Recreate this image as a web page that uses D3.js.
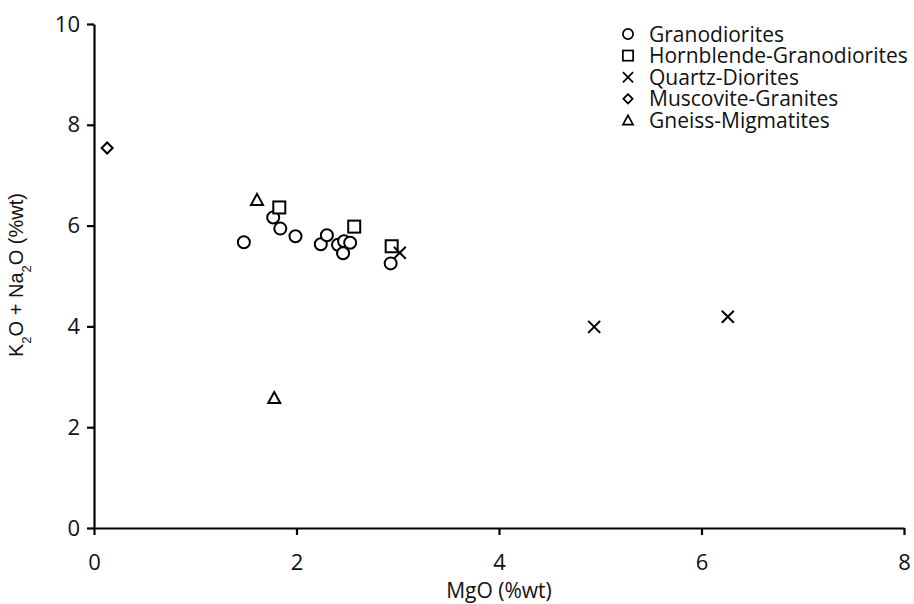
<!DOCTYPE html>
<html>
<head>
<meta charset="utf-8">
<script src="https://cdn.jsdelivr.net/npm/d3@7"></script>
<style>
  body { margin: 0; background: #fff; }
  svg { font-family: "Open Sans", sans-serif; }
</style>
</head>
<body>
<div id="chart"></div>
<script>
// series data: [MgO, K2O+Na2O]
var granodiorites = [[1.48, 5.67], [1.77, 6.16], [1.84, 5.94], [1.99, 5.79], [2.24, 5.63], [2.30, 5.81],
  [2.41, 5.62], [2.47, 5.69], [2.53, 5.66], [2.46, 5.45], [2.93, 5.25]];
var hornblendeGranodiorites = [[1.83, 6.36], [2.57, 5.98], [2.94, 5.59]];
var quartzDiorites = [[3.02, 5.46], [4.94, 3.99], [6.26, 4.19]];
var muscoviteGranites = [[0.13, 7.54]];
var gneissMigmatites = [[1.61, 6.51], [1.78, 2.58]];

var seriesNames = ["Granodiorites", "Hornblende-Granodiorites", "Quartz-Diorites", "Muscovite-Granites", "Gneiss-Migmatites"];
var xTicks = [0, 2, 4, 6, 8];
var yTicks = [0, 2, 4, 6, 8, 10];

var margin = {top: 24, right: 7, bottom: 76, left: 94},
    width = 914 - margin.left - margin.right,
    height = 604 - margin.top - margin.bottom;

var svg = d3.select("#chart").append("svg")
  .attr("width", 914).attr("height", 604)
  .append("g").attr("transform", "translate(" + margin.left + "," + margin.top + ")");

var x = d3.scaleLinear().domain([0, 8]).range([0, width - 3]);
var y = d3.scaleLinear().domain([0, 10]).range([height, 0]);

var xAxis = svg.append("g").attr("transform", "translate(0," + height + ")")
  .call(d3.axisBottom(x).tickValues(xTicks).tickSize(7).tickPadding(19).tickSizeOuter(0));
var yAxis = svg.append("g")
  .call(d3.axisLeft(y).tickValues(yTicks).tickSize(7).tickPadding(7).tickSizeOuter(0));

[xAxis, yAxis].forEach(function(a) {
  a.selectAll("path, line").attr("stroke", "#000").attr("stroke-width", 2.2);
  a.selectAll("text").attr("fill", "#111").style("font-size", "22px").style("font-family", "Open Sans, sans-serif");
});

svg.append("text").attr("x", x(4)).attr("y", height + 70).attr("text-anchor", "middle")
  .style("font-size", "21px").attr("fill", "#111").text("MgO (%wt)");

var yt = svg.append("text").attr("transform", "translate(-71," + (y(5) - 1) + ") rotate(-90)")
  .attr("text-anchor", "middle").style("font-size", "20px").style("font-family", "Liberation Sans, Arial, sans-serif")
  .attr("fill", "#111");
yt.append("tspan").text("K");
yt.append("tspan").attr("baseline-shift", "sub").style("font-size", "13px").text("2");
yt.append("tspan").text("O + Na");
yt.append("tspan").attr("baseline-shift", "sub").style("font-size", "13px").text("2");
yt.append("tspan").text("O (%wt)");

// marker drawing
function drawMarker(g, kind) {
  var s = {stroke: "#000", "stroke-width": 2, fill: "#fff"};
  var m;
  if (kind === 0) m = g.append("circle").attr("r", 6);
  else if (kind === 1) m = g.append("rect").attr("x", -6).attr("y", -6).attr("width", 12).attr("height", 12);
  else if (kind === 2) m = g.append("path").attr("d", "M-6,-6L6,6M-6,6L6,-6");
  else if (kind === 3) m = g.append("path").attr("d", "M0,-5.5L5.5,0L0,5.5L-5.5,0Z");
  else m = g.append("path").attr("d", "M0,-6L6,5L-6,5Z");
  Object.keys(s).forEach(function(k) { m.attr(k, s[k]); });
  if (kind === 2) m.attr("fill", "none");
}

var allSeries = [granodiorites, hornblendeGranodiorites, quartzDiorites, muscoviteGranites, gneissMigmatites];
allSeries.forEach(function(data, i) {
  svg.append("g").selectAll("g").data(data).enter().append("g")
    .attr("transform", function(d) { return "translate(" + x(d[0]) + "," + y(d[1]) + ")"; })
    .each(function() { drawMarker(d3.select(this), i); });
});

// legend
var legend = svg.append("g").attr("transform", "translate(" + (628 - margin.left) + "," + (34 - margin.top) + ")");
seriesNames.forEach(function(name, i) {
  var row = legend.append("g").attr("transform", "translate(0," + (i * 21.6) + ")");
  drawMarker(row.append("g").attr("transform", "scale(0.85)"), i);
  row.append("text").attr("x", 21).attr("dy", "0.36em").style("font-size", "21px").attr("fill", "#111").text(name);
});
</script>
</body>
</html>
